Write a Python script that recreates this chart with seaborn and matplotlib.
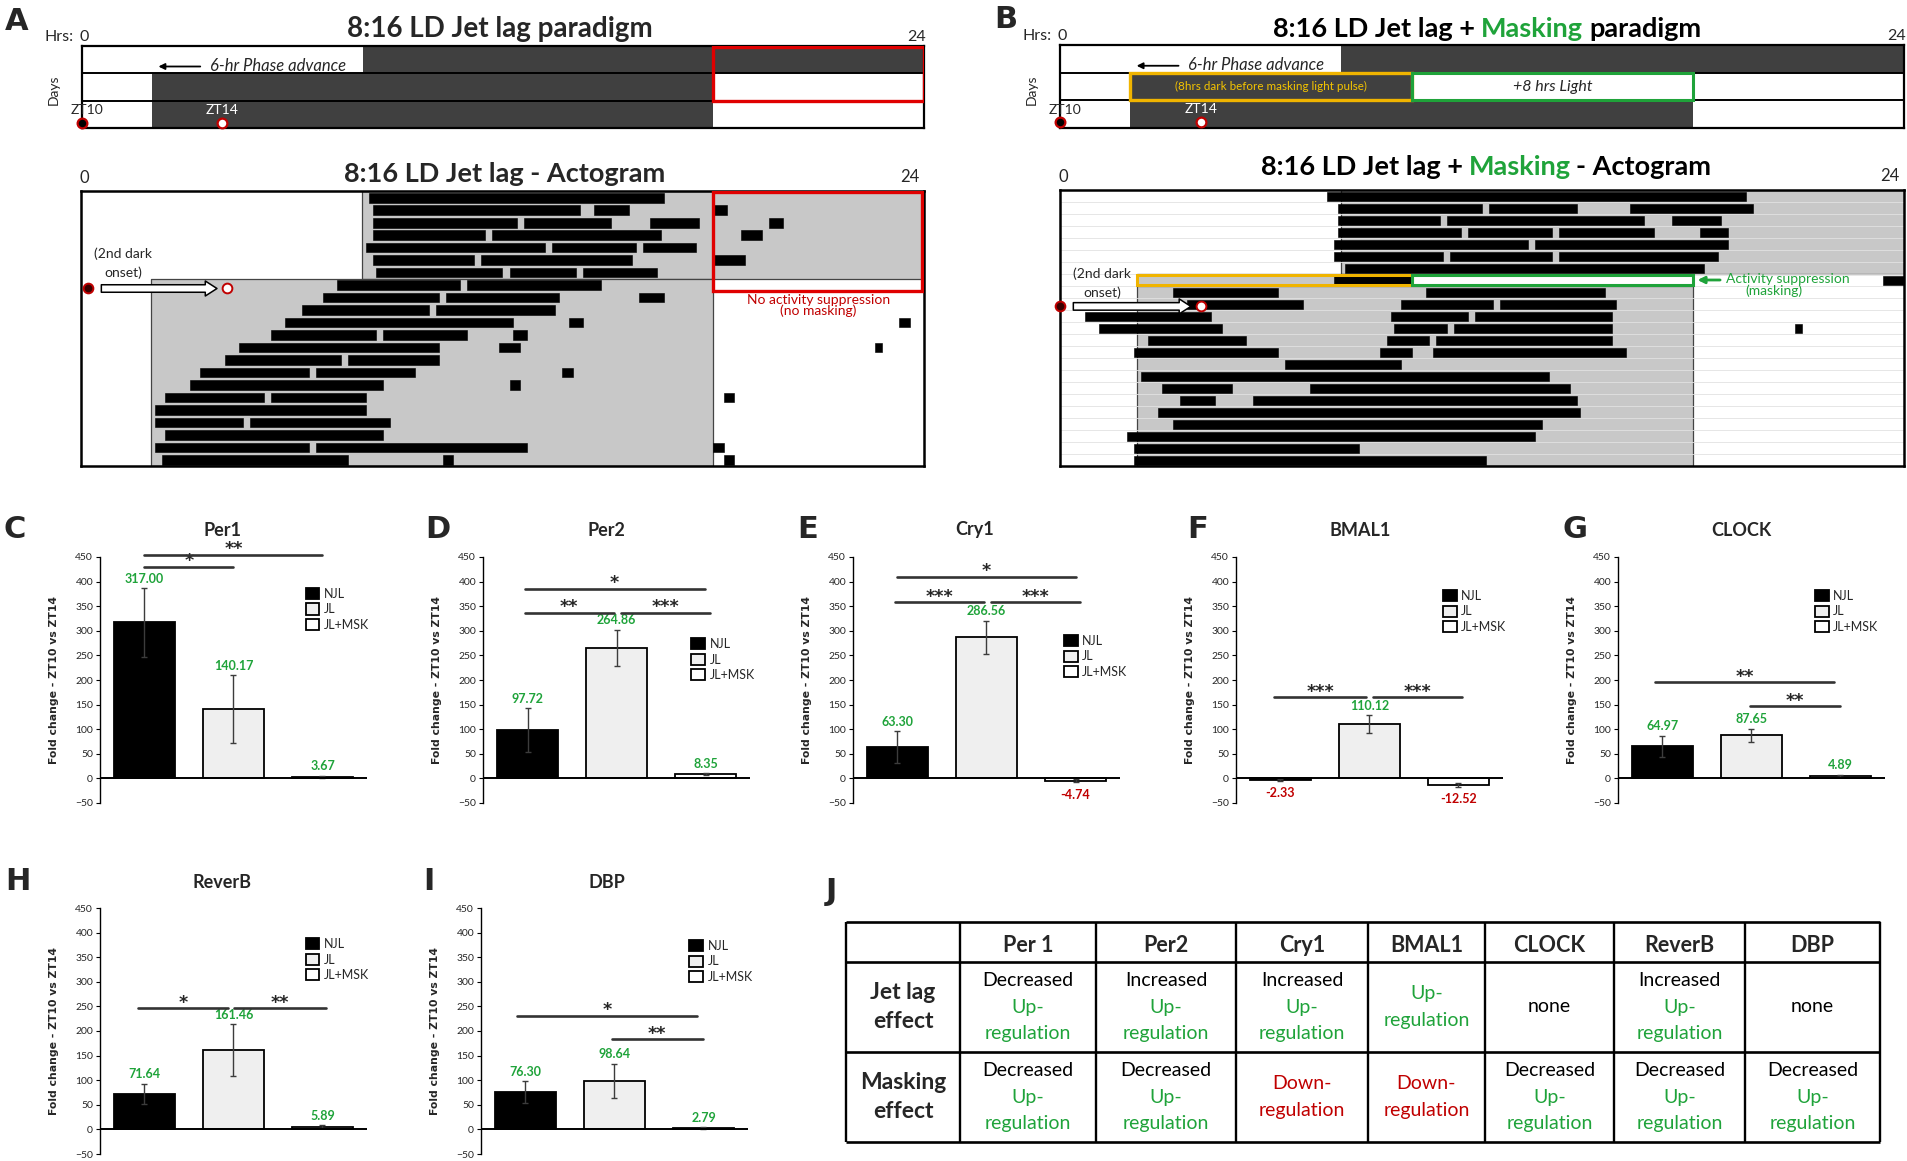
import numpy as np
import pandas as pd
import seaborn as sns
import matplotlib.pyplot as plt
from matplotlib.patches import Rectangle, Patch

W, H = 1908, 1161
GREEN = '#1fa33a'
RED = '#c00000'
GOLD = '#f0b400'
DARK = '#404040'
GRAY = '#c8c8c8'

# ---------------- qPCR data: fold change ZT10 vs ZT14 ----------------
groups = ['NJL', 'JL', 'JL+MSK']
group_colors = ['#000000', '#efefef', '#ffffff']

per1 = [317.00, 140.17, 3.67]
per1_err = [70, 69, 2]
per2 = [97.72, 264.86, 8.35]
per2_err = [45, 37, 2]
cry1 = [63.30, 286.56, -4.74]
cry1_err = [33, 34, 3]
bmal1 = [-2.33, 110.12, -12.52]
bmal1_err = [2, 18, 4]
clock = [64.97, 87.65, 4.89]
clock_err = [22, 13, 3]
reverb = [71.64, 161.46, 5.89]
reverb_err = [21, 52, 3]
dbp = [76.30, 98.64, 2.79]
dbp_err = [22, 35, 2]

# significance brackets: (from bar, to bar, height, stars)
per1_sig = [(0, 1, 430, '*'), (0, 2, 455, '**')]
per2_sig = [(-0.03, 0.97, 337, '**'), (1.05, 2.05, 337, '***'), (-0.03, 1.99, 385, '*')]
cry1_sig = [(0, 2, 410, '*'), (-0.03, 0.97, 358, '***'), (1.05, 2.05, 358, '***')]
bmal1_sig = [(-0.07, 0.96, 165, '***'), (1.04, 2.04, 165, '***')]
clock_sig = [(-0.08, 1.93, 195, '**'), (0.98, 2.0, 147, '**')]
reverb_sig = [(-0.07, 0.94, 246, '*'), (1.01, 2.04, 246, '**')]
dbp_sig = [(-0.1, 1.93, 231, '*'), (0.97, 1.99, 183, '**')]

# ---------------- light schedules (hours of darkness per day row) ----------------
par_a = [[(8, 24)], [(2, 18)], [(2, 18)]]
par_b = [[(8, 24)], [(2, 10)], [(2, 18)]]
light_a = [(0, 7, [(8, 24)]), (7, 22, [(2, 18)])]
light_b = [(0, 7, [(8, 24)]), (7, 8, [(2.2, 10)]), (8, 23, [(2.2, 18)])]

# ---------------- actogram activity bouts (hours) per day ----------------
acto_a = [
    [(8.2, 16.6)],
    [(8.3, 14.2), (14.6, 15.6), (18.0, 18.4)],
    [(8.3, 12.4), (12.6, 15.1), (16.2, 17.6), (19.6, 20.0)],
    [(8.3, 11.5), (11.7, 16.5), (18.8, 19.4)],
    [(8.1, 13.2), (13.4, 15.8), (16.0, 17.5)],
    [(8.3, 11.2), (11.4, 15.7), (18.0, 18.9)],
    [(8.4, 12.0), (12.2, 14.1), (14.3, 16.4)],
    [(7.3, 10.8), (11.0, 14.8)],
    [(6.9, 10.2), (10.4, 13.6), (15.9, 16.6)],
    [(6.3, 9.9), (10.1, 13.5)],
    [(5.8, 12.3), (13.9, 14.3), (23.3, 23.6)],
    [(5.4, 8.4), (8.6, 11.0), (12.3, 12.7)],
    [(4.5, 10.2), (11.9, 12.5), (22.6, 22.8)],
    [(4.1, 7.4), (7.6, 10.2)],
    [(3.4, 6.5), (6.7, 9.5), (13.7, 14.0)],
    [(3.1, 8.6), (12.2, 12.5)],
    [(2.4, 5.2), (5.4, 8.1), (18.3, 18.6)],
    [(2.1, 8.1)],
    [(2.1, 4.6), (4.8, 8.8)],
    [(2.4, 8.6)],
    [(2.1, 6.5), (6.7, 12.7), (18.0, 18.3)],
    [(2.3, 7.6), (10.3, 10.6), (18.3, 18.6)],
]
acto_b = [
    [(7.6, 19.5)],
    [(7.9, 12.0), (12.2, 14.7), (16.2, 19.7)],
    [(7.9, 10.8), (11.0, 16.6), (17.4, 18.8)],
    [(7.9, 11.4), (11.6, 14.0), (14.2, 16.9), (18.2, 19.0)],
    [(7.8, 13.3), (13.5, 19.0)],
    [(7.8, 10.9), (11.1, 14.0), (14.2, 18.7)],
    [(8.1, 18.3)],
    [(7.8, 10.0), (23.4, 24.0)],
    [(3.2, 6.2), (10.4, 15.5)],
    [(3.6, 6.9), (9.7, 12.3), (12.5, 15.8)],
    [(0.7, 4.3), (9.4, 11.6), (11.8, 15.7)],
    [(1.1, 4.6), (9.5, 11.0), (11.2, 15.7), (20.9, 21.1)],
    [(2.5, 5.3), (9.3, 10.5), (10.7, 15.7)],
    [(2.1, 6.2), (9.1, 10.0), (10.6, 16.1)],
    [(6.4, 9.7)],
    [(2.3, 13.9)],
    [(2.9, 4.9), (7.1, 14.5)],
    [(3.4, 4.4), (5.5, 14.7)],
    [(2.8, 14.8)],
    [(3.2, 13.7)],
    [(1.9, 13.5)],
    [(2.1, 8.5)],
    [(2.1, 12.1)],
]

# ---------------- summary table ----------------
tab_cols = ['', 'Per 1', 'Per2', 'Cry1', 'BMAL1', 'CLOCK', 'ReverB', 'DBP']
tab_rows = ['Jet lag\neffect', 'Masking\neffect']
jetlag_cells = [
    [('Decreased', 'k'), ('Up-', 'g'), ('regulation', 'g')],
    [('Increased', 'k'), ('Up-', 'g'), ('regulation', 'g')],
    [('Increased', 'k'), ('Up-', 'g'), ('regulation', 'g')],
    [('Up-', 'g'), ('regulation', 'g')],
    [('none', 'k')],
    [('Increased', 'k'), ('Up-', 'g'), ('regulation', 'g')],
    [('none', 'k')],
]
masking_cells = [
    [('Decreased', 'k'), ('Up-', 'g'), ('regulation', 'g')],
    [('Decreased', 'k'), ('Up-', 'g'), ('regulation', 'g')],
    [('Down-', 'r'), ('regulation', 'r')],
    [('Down-', 'r'), ('regulation', 'r')],
    [('Decreased', 'k'), ('Up-', 'g'), ('regulation', 'g')],
    [('Decreased', 'k'), ('Up-', 'g'), ('regulation', 'g')],
    [('Decreased', 'k'), ('Up-', 'g'), ('regulation', 'g')],
]
cell_color = {'k': 'black', 'g': GREEN, 'r': RED}

sns.set_theme(style='white')
plt.rcParams['font.family'] = ['Lato', 'DejaVu Sans']

fig = plt.figure(figsize=(W / 100, H / 100), dpi=100)


def px_ax(l, t, r, b):
    return fig.add_axes([l / W, 1 - b / H, (r - l) / W, (b - t) / H])


def ftext(x, y, s, **kw):
    return fig.text(x / W, 1 - y / H, s, **kw)


def color_title(xc, y, parts, size):
    r = fig.canvas.get_renderer()
    txts = [ftext(0, y, s, color=c, fontsize=size, fontweight='bold',
                  va='center', ha='left') for s, c in parts]
    widths = [t.get_window_extent(renderer=r).width for t in txts]
    gap = 0.22 * size * 100 / 72
    x = xc - (sum(widths) + gap * (len(parts) - 1)) / 2
    for t, w in zip(txts, widths):
        t.set_x(x / W)
        x += w + gap


def frame(ax, lw):
    ax.set_xticks([])
    ax.set_yticks([])
    for s in ax.spines.values():
        s.set_visible(True)
        s.set_color('black')
        s.set_linewidth(lw)


def paradigm(ax, dark):
    for i, spans in enumerate(dark):
        ax.broken_barh([(a, b - a) for a, b in spans], (i, 1), facecolors=DARK,
                       edgecolor='none', zorder=1)
    ax.hlines([1, 2], 0, 24, color='black', lw=1.4, zorder=3)
    ax.set_xlim(0, 24)
    ax.set_ylim(3, 0)
    frame(ax, 1.6)
    ax.plot([0], [2.8], 'o', ms=7, mfc='black', mec=RED, mew=1.6, clip_on=False, zorder=6)
    ax.plot([4], [2.8], 'o', ms=7, mfc='white', mec=RED, mew=1.6, clip_on=False, zorder=6)
    ax.text(0.15, 2.35, 'ZT10', fontsize=10, ha='center', va='center', zorder=6)
    ax.text(4.0, 2.33, 'ZT14', fontsize=10, ha='center', va='center', color='white', zorder=6)
    ax.annotate('', xy=(2.1, 0.75), xytext=(3.45, 0.75),
                arrowprops=dict(arrowstyle='-|>', color='black', lw=1.3, mutation_scale=9))
    ax.text(3.65, 0.74, '6-hr Phase advance', fontsize=12, style='italic', va='center')
    ax.text(-0.25, -0.08, 'Hrs:', fontsize=11.5, ha='right', va='bottom')
    ax.text(0.05, -0.08, '0', fontsize=11.5, ha='center', va='bottom')
    ax.text(23.8, -0.08, '24', fontsize=11.5, ha='center', va='bottom')
    ax.text(-0.8, 1.6, 'Days', fontsize=10, rotation=90, ha='center', va='center')


def actogram(ax, light, rows, n_rows, row_lines=False):
    for r0, r1, spans in light:
        ax.broken_barh([(a, b - a) for a, b in spans], (r0, r1 - r0), facecolors=GRAY,
                       edgecolor='#444444', linewidth=0.9, zorder=1)
    if row_lines:
        ax.hlines(np.arange(1, n_rows), 0, 24, color='#e2e2e2', lw=0.6, zorder=1.5)
    for i, segs in enumerate(rows):
        ax.broken_barh([(a, b - a) for a, b in segs], (i + 0.15, 0.77), facecolors='black',
                       edgecolor='black', linewidth=0.4, zorder=2)
    ax.set_xlim(0, 24)
    ax.set_ylim(n_rows, 0)
    frame(ax, 1.8)
    ax.text(0.1, -0.4, '0', fontsize=12, ha='center', va='bottom')
    ax.text(23.6, -0.5, '24', fontsize=12, ha='center', va='bottom')


def hollow_arrow(ax, x0, x1, y):
    ax.annotate('', xy=(x1, y), xytext=(x0, y),
                arrowprops=dict(arrowstyle='simple,head_length=0.7,head_width=0.9,tail_width=0.45',
                                fc='white', ec='black', lw=1.1), zorder=7)
    ax.plot([x0 - 0.3], [y], 'o', ms=7, mfc='#3a0000', mec=RED, mew=1.4, clip_on=False, zorder=8)
    ax.plot([x1 + 0.2], [y], 'o', ms=7, mfc='white', mec=RED, mew=1.4, zorder=8)


# ---------------- panel A ----------------
ax = px_ax(82, 46, 924, 128)
paradigm(ax, par_a)
ax.add_patch(Rectangle((18, 0.02), 6, 1.98, fill=False, ec='#e00000', lw=2.4, zorder=5))
ftext(500, 29, '8:16 LD Jet lag paradigm', fontsize=20, fontweight='bold', ha='center', va='center')

ax = px_ax(81, 191, 924, 466)
actogram(ax, light_a, acto_a, 22)
ax.add_patch(Rectangle((18, 0.05), 5.95, 7.95, fill=False, ec='#e00000', lw=2.4, zorder=5))
ax.text(1.2, 5.0, '(2nd dark', fontsize=10, ha='center', va='center', zorder=7)
ax.text(1.2, 6.5, 'onset)', fontsize=10, ha='center', va='center', zorder=7)
hollow_arrow(ax, 0.5, 3.95, 7.8)
ax.text(21.0, 8.7, 'No activity suppression', fontsize=10, color=RED, ha='center', va='center')
ax.text(21.0, 9.6, '(no masking)', fontsize=10, color=RED, ha='center', va='center')
ftext(505, 174, '8:16 LD Jet lag - Actogram', fontsize=19.5, fontweight='bold', ha='center', va='center')

# ---------------- panel B ----------------
ax = px_ax(1060, 45, 1904, 128)
paradigm(ax, par_b)
ax.add_patch(Rectangle((2, 1.03), 8, 0.94, fill=False, ec=GOLD, lw=2.4, zorder=5))
ax.add_patch(Rectangle((10, 1.03), 8, 0.94, fill=False, ec=GREEN, lw=2.2, zorder=5))
ax.text(6, 1.5, '(8hrs dark before masking light pulse)', fontsize=8.4, color='#f5c400',
        ha='center', va='center', zorder=6)
ax.text(14, 1.5, '+8 hrs Light', fontsize=11.5, style='italic', ha='center', va='center', zorder=6)
color_title(1487, 29, [('8:16 LD Jet lag +', 'black'), ('Masking', GREEN), ('paradigm', 'black')], 19.5)

ax = px_ax(1060, 190, 1904, 466)
actogram(ax, light_b, acto_b, 23, row_lines=True)
ax.add_patch(Rectangle((2.2, 7.05), 7.8, 0.9, fill=False, ec=GOLD, lw=2.2, zorder=5))
ax.add_patch(Rectangle((10, 7.05), 8, 0.9, fill=False, ec=GREEN, lw=2.2, zorder=5))
ax.text(1.2, 7.0, '(2nd dark', fontsize=10, ha='center', va='center', zorder=7)
ax.text(1.2, 8.6, 'onset)', fontsize=10, ha='center', va='center', zorder=7)
hollow_arrow(ax, 0.3, 3.8, 9.7)
ax.annotate('', xy=(18.05, 7.5), xytext=(18.85, 7.5),
            arrowprops=dict(arrowstyle='-|>', color=GREEN, lw=2, mutation_scale=10))
ax.text(18.95, 7.45, 'Activity suppression', fontsize=10, color=GREEN, ha='left', va='center')
ax.text(20.3, 8.4, '(masking)', fontsize=10, color=GREEN, ha='center', va='center')
color_title(1486, 167, [('8:16 LD Jet lag +', 'black'), ('Masking', GREEN), ('- Actogram', 'black')], 19.5)


# ---------------- bar panels C - I ----------------
def bar_panel(ax, means, errs, sig, leg_xy):
    df = pd.DataFrame({'group': groups, 'fold': means})
    sns.barplot(data=df, x='group', y='fold', hue='group', order=groups, hue_order=groups,
                palette=group_colors, edgecolor='black', linewidth=1.3, width=0.68,
                errorbar=None, legend=False, ax=ax)
    ax.errorbar(np.arange(3), means, yerr=errs, fmt='none', ecolor='#3c3c3c',
                elinewidth=1, capsize=2.5, capthick=1, zorder=4)
    ax.axhline(0, color='black', lw=1.4, zorder=5)
    ax.set_xlim(-0.5, 2.5)
    ax.set_ylim(-50, 450)
    ax.set_yticks(np.arange(-50, 451, 50))
    ax.set_xticks([])
    ax.set_xlabel('')
    ax.set_ylabel('Fold change - ZT10 vs ZT14', fontsize=7.8, fontweight='bold', family='DejaVu Sans')
    ax.yaxis.set_label_coords(-0.155, 0.5)
    ax.tick_params(axis='y', labelsize=7.5, length=3, width=0.8, pad=2, left=True, color='black')
    for s in ['top', 'right', 'bottom']:
        ax.spines[s].set_visible(False)
    ax.spines['left'].set_color('black')
    ax.spines['left'].set_linewidth(1)
    ax.patch.set_alpha(0)
    for i, (m, e) in enumerate(zip(means, errs)):
        if m >= 0:
            ax.text(i, m + e + 7, f'{m:.2f}', ha='center', va='bottom', color=GREEN,
                    fontsize=9, fontweight='bold')
        else:
            ax.text(i, m - e - 14, f'{m:.2f}', ha='center', va='top', color=RED,
                    fontsize=9, fontweight='bold')
    for x1, x2, y, lab in sig:
        ax.plot([x1, x2], [y, y], color='#333333', lw=1.9, clip_on=False, zorder=6)
        ax.text((x1 + x2) / 2, y + 1, lab, ha='center', va='baseline', fontsize=12.5,
                fontweight='bold', family='DejaVu Sans', clip_on=False)
    handles = [Patch(facecolor=c, edgecolor='black', linewidth=1.3) for c in group_colors]
    ax.legend(handles, groups, loc='upper left', bbox_to_anchor=leg_xy, frameon=False,
              fontsize=9, handlelength=1.1, handleheight=1.0, handletextpad=0.35,
              labelspacing=0.28, borderpad=0, borderaxespad=0)


panels = [
    ('C', 'Per1', per1, per1_err, per1_sig, 100, 557, (0.77, 0.875), 15, 223),
    ('D', 'Per2', per2, per2_err, per2_sig, 483, 557, (0.78, 0.67), 438, 606),
    ('E', 'Cry1', cry1, cry1_err, cry1_sig, 853, 557, (0.79, 0.683), 808, 975),
    ('F', 'BMAL1', bmal1, bmal1_err, bmal1_sig, 1236, 557, (0.775, 0.866), 1198, 1360),
    ('G', 'CLOCK', clock, clock_err, clock_sig, 1618, 557, (0.738, 0.866), 1575, 1741),
    ('H', 'ReverB', reverb, reverb_err, reverb_sig, 100, 908, (0.77, 0.878), 18, 222),
    ('I', 'DBP', dbp, dbp_err, dbp_sig, 481, 908, (0.78, 0.87), 429, 607),
]
for letter, gene, means, errs, sig, left, top, leg_xy, lx, tx in panels:
    ax = px_ax(left, top, left + 267, top + 246)
    bar_panel(ax, means, errs, sig, leg_xy)
    ty = top - 27 if top < 600 else top - 26
    ftext(tx, ty, gene, fontsize=13, fontweight='bold', ha='center', va='center')
    ftext(lx, ty, letter, fontsize=22, fontweight='bold', family='DejaVu Sans', ha='center', va='center')

ftext(17, 21, 'A', fontsize=22, fontweight='bold', family='DejaVu Sans', ha='center', va='center')
ftext(1006, 19, 'B', fontsize=22, fontweight='bold', family='DejaVu Sans', ha='center', va='center')

# ---------------- panel J: table ----------------
col_w = [114, 136, 140, 132, 117, 129, 131, 135]
row_h = [40, 90, 90]
ax = px_ax(846, 922, 846 + sum(col_w), 922 + sum(row_h))
xb = np.concatenate([[0], np.cumsum(col_w)])
yb = np.concatenate([[0], np.cumsum(row_h)])
ax.set_xlim(0, xb[-1])
ax.set_ylim(yb[-1], 0)
ax.axis('off')
ax.vlines(xb, 0, yb[-1], color='black', lw=1.7, clip_on=False)
ax.hlines(yb, 0, xb[-1], color='black', lw=1.9, clip_on=False)
xc = (xb[:-1] + xb[1:]) / 2
yc = (yb[:-1] + yb[1:]) / 2
for j, lab in enumerate(tab_cols):
    ax.text(xc[j], yc[0] + 3, lab, fontsize=15.5, fontweight='bold', ha='center', va='center')
for i, lab in enumerate(tab_rows):
    for k, line in enumerate(lab.split('\n')):
        ax.text(xc[0], yc[i + 1] + (k - 0.5) * 29, line, fontsize=16.5, fontweight='bold',
                ha='center', va='center')
for i, cells in enumerate([jetlag_cells, masking_cells]):
    for j, lines in enumerate(cells):
        n = len(lines)
        for k, (s, c) in enumerate(lines):
            ax.text(xc[j + 1], yc[i + 1] + (k - (n - 1) / 2) * 27, s, fontsize=14,
                    color=cell_color[c], ha='center', va='center')
ftext(831, 892, 'J', fontsize=22, fontweight='bold', family='DejaVu Sans', ha='center', va='center')

fig.savefig('out.png', dpi=100)
